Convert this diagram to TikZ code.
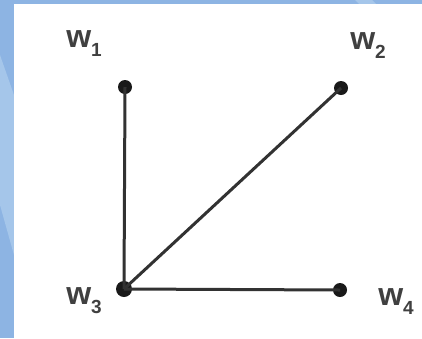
\documentclass[tikz,border=0pt]{standalone}
\usepackage{fontspec}
\setmainfont{Liberation Sans}
\usetikzlibrary{positioning,calc}
\definecolor{slideblue}{RGB}{141,180,227}
\definecolor{lightslide}{RGB}{165,198,234}
\definecolor{edgegray}{RGB}{50,50,50}

\tikzset{
    vertex/.style={circle, fill=black!90, inner sep=0pt, minimum size=14pt},
    bigvertex/.style={vertex, minimum size=16pt},
    wlabel/.style={inner sep=0pt, font=\bfseries\fontsize{32}{32}\selectfont, text=black!75},
    edge/.style={draw=edgegray, line width=3pt}
}
\newcommand{\wsub}[1]{w\raisebox{-9pt}{\fontsize{19}{19}\selectfont #1}}

\begin{document}
\begin{tikzpicture}[x=1pt, y=-1pt]
    % slide background
    \useasboundingbox (0,0) rectangle (422,338);
    \fill[slideblue] (0,0) rectangle (422,338);
    \fill[lightslide] (0,55) -- (14,95) -- (14,255) -- (0,205) -- cycle;
    \fill[lightslide] (355,0) -- (372,0) -- (376,4) -- (359,4) -- cycle;
    \fill[white] (14,4) rectangle (422,338);

    % vertices
    \node[vertex] (w1) at (125,87) {};
    \node[vertex] (w2) at (341,88) {};
    \node[bigvertex] (w3) at (124,289) {};
    \node[vertex] (w4) at (340,290) {};

    % edges
    \draw[edge] (w3.center) -- (w1.center);
    \draw[edge] (w3.center) -- (w2.center);
    \draw[edge] (w3.center) -- (w4.center);

    % labels
    \node[wlabel] (l1) at (84,44) {\wsub{1}};
    \node[wlabel] (l2) at (368,46) {\wsub{2}};
    \node[wlabel] (l3) at (84,301) {\wsub{3}};
    \node[wlabel] (l4) at (396,302) {\wsub{4}};
\end{tikzpicture}
\end{document}
